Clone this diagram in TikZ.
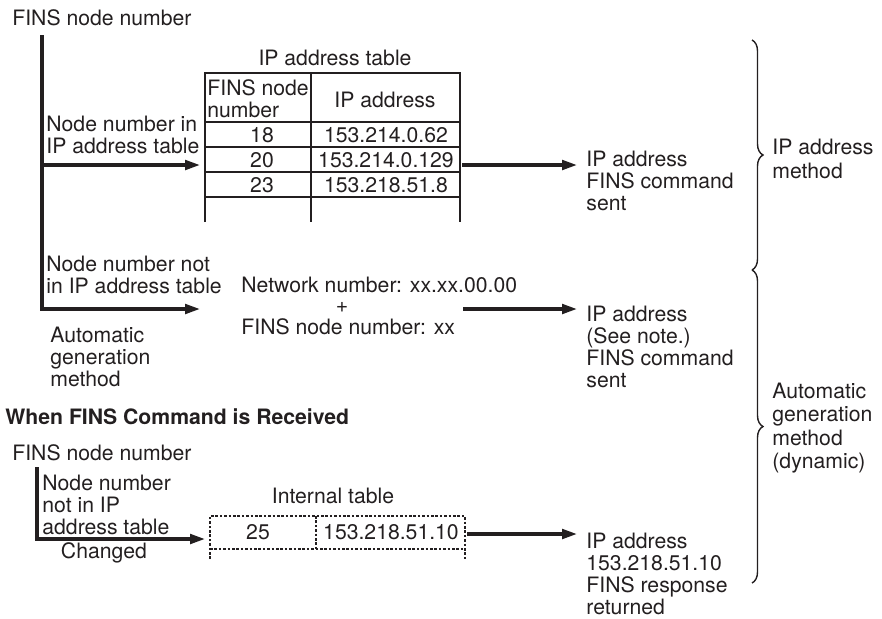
\documentclass[tikz,border=0pt]{standalone}
\usepackage{fontspec}
\setmainfont{TeX Gyre Heros}
\usetikzlibrary{arrows.meta,calc,positioning,decorations.pathreplacing}
\definecolor{ink}{RGB}{35,31,32}
\tikzset{
  txt/.style={font=\fontsize{10.6}{11}\selectfont, text=ink, inner sep=0pt, align=left},
  ctxt/.style={txt, align=center},
  sidetxt/.style={txt, font=\fontsize{10.6}{11.6}\selectfont},
  headtxt/.style={txt, font=\fontsize{10.6}{11}\selectfont\bfseries},
  flow/.style={-{Triangle[length=7.5pt,width=4.8pt]}, line width=1.6pt, draw=ink},
  tabline/.style={line width=0.6pt, draw=ink},
  dashline/.style={line width=0.6pt, draw=ink, dash pattern=on 1.3pt off 0.9pt},
  curly/.style={decorate, decoration={brace, amplitude=5.5pt}, line width=0.7pt, draw=ink},
}

\begin{document}
\begin{tikzpicture}[x=0.5pt,y=-0.5pt]
  \useasboundingbox (0,0) rectangle (882,618);

  % Sending side: node number lookup.
  \node[txt, anchor=west] (finsTop) at (12,18) {FINS node number};
  \coordinate (trunkTop) at (42,35);
  \coordinate (trunkBot) at (42,309);

  % IP address table.
  \node[ctxt] (tabTitle) at (335,58) {IP address table};
  \draw[tabline] (205,222) -- (205,73) -- (460,73) -- (460,222);
  \draw[tabline] (311,73) -- (311,222);
  \foreach \y in {122,147,172,197} {
    \draw[tabline] (205,\y) -- (460,\y);
  }
  \node[txt, anchor=west] (hdNode) at (207,99) {FINS node\\number};
  \node[ctxt] (hdIp) at (385,100) {IP address};
  \foreach \n/\ip/\y in {18/153.214.0.62/135, 20/153.214.0.129/160, 23/153.218.51.8/185} {
    \node[ctxt] (no\n) at (262,\y) {\n};
    \node[ctxt] (ip\n) at (386,\y) {\ip};
  }

  \coordinate (tabIn) at (200,165);
  \coordinate (tabOut) at (462,165);
  \draw[flow] (trunkTop |- tabIn) -- (tabIn);
  \node[txt, anchor=west] (inTab) at (46,135) {Node number in\\IP address table};

  \node[txt, anchor=west] (cmdSent) at (586,181) {IP address\\FINS command\\sent};
  \draw[flow] (tabOut) -- ($(cmdSent.west |- tabOut)+(-9,0)$);

  % Automatic generation branch.
  \coordinate (genIn) at (200,309);
  \draw[flow] (trunkTop) -- (trunkBot) -- (genIn);
  \node[txt, anchor=west] (notTab) at (46,275) {Node number not\\in IP address table};
  \node[txt, anchor=west] (autoGen) at (50,357) {Automatic\\generation\\method};

  \node[txt, anchor=west] (netNum) at (241,285) {Network number: xx.xx.00.00};
  \node[ctxt] (plus) at (342,307) {+};
  \node[txt, anchor=west] (nodeNum) at (241,327) {FINS node number: xx};

  \coordinate (genOut) at (463,309);
  \node[txt, anchor=west] (seeNote) at (586,347) {IP address\\(See note.)\\FINS command\\sent};
  \draw[flow] (genOut) -- ($(seeNote.west |- genOut)+(-9,0)$);

  % Receiving side.
  \node[headtxt, anchor=west] (recvHead) at (5,417) {When FINS Command is Received};
  \node[txt, anchor=west] (finsBot) at (12,453) {FINS node number};
  \coordinate (recvTop) at (37,467);
  \coordinate (recvBot) at (37,539);
  \coordinate (intIn) at (205,539);
  \draw[flow] (recvTop) -- (recvBot) -- (intIn);
  \node[txt, anchor=west] (notTab2) at (42,505) {Node number\\not in IP\\address table};
  \node[ctxt] (changed) at (104,553) {Changed};

  % Internal table, dashed.
  \node[ctxt] (intTitle) at (333,496) {Internal table};
  \draw[dashline] (210,559) -- (210,516) -- (465,516) -- (465,559);
  \draw[dashline] (210,549) -- (465,549);
  \draw[dashline] (316,516) -- (316,549);
  \node[ctxt] (no25) at (258,532) {25};
  \node[ctxt] (ip25) at (391,532) {153.218.51.10};

  \coordinate (intOut) at (467,534);
  \node[txt, anchor=west] (respRet) at (586,574) {IP address\\153.218.51.10\\FINS response\\returned};
  \draw[flow] (intOut) -- ($(respRet.west |- intOut)+(-9,0)$);

  % Method braces on the right.
  \coordinate (braceTop) at (752,40);
  \coordinate (braceMid) at (752,270);
  \coordinate (braceBot) at (752,583);
  \draw[curly] (braceTop) -- (braceMid);
  \draw[curly] (braceMid) -- (braceBot);
  \node[sidetxt, anchor=west] (ipMethod) at (772,159) {IP address\\method};
  \node[sidetxt, anchor=west] (autoMethod) at (772,428) {Automatic\\generation\\method\\(dynamic)};

\end{tikzpicture}
\end{document}
